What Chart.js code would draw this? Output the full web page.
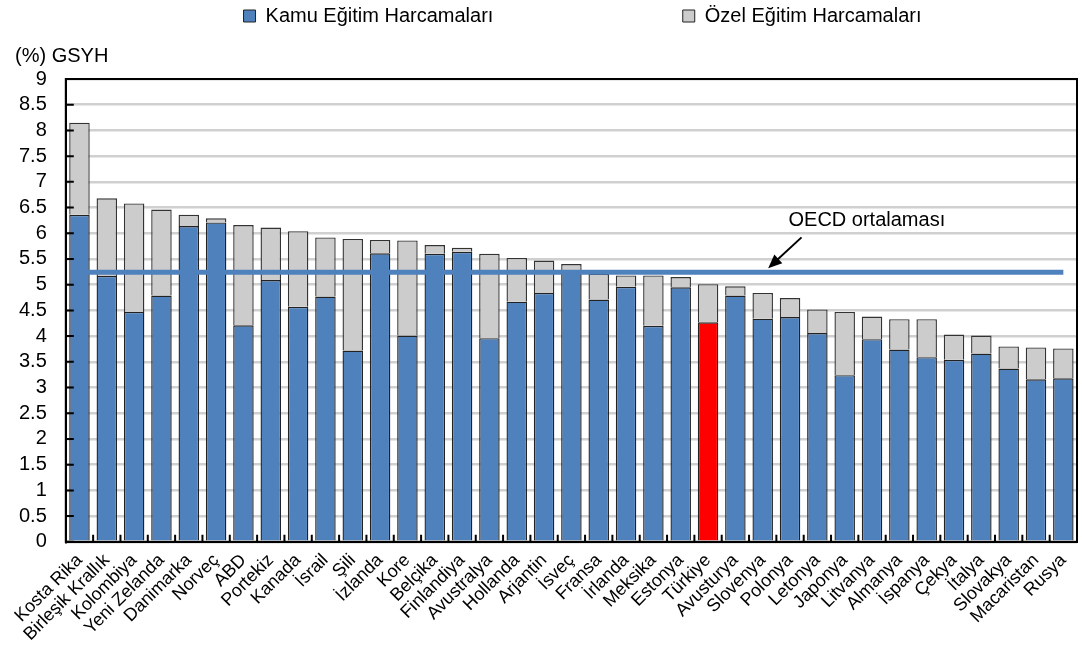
<!DOCTYPE html>
<html>
<head>
<meta charset="utf-8">
<script src="https://cdn.jsdelivr.net/npm/chart.js@4.4.1/dist/chart.umd.min.js"></script>
<style>
  html, body { margin: 0; padding: 0; background: #fff; }
  #wrap { width: 1082px; height: 645px; }
</style>
</head>
<body>
<div id="wrap"><canvas id="plot"></canvas></div>
<script>
  // ülkeler (toplam harcamaya göre sıralı)
  var ulkeler = ["Kosta Rika", "Birleşik Krallık", "Kolombiya", "Yeni Zelanda", "Danimarka", "Norveç",
    "ABD", "Portekiz", "Kanada", "İsrail", "Şili", "İzlanda", "Kore", "Belçika", "Finlandiya",
    "Avustralya", "Hollanda", "Arjantin", "İsveç", "Fransa", "İrlanda", "Meksika", "Estonya",
    "Türkiye", "Avusturya", "Slovenya", "Polonya", "Letonya", "Japonya", "Litvanya", "Almanya",
    "İspanya", "Çekya", "İtalya", "Slovakya", "Macaristan", "Rusya"];

  var kamu = [6.36, 5.17, 4.47, 4.79, 6.14, 6.21, 4.21, 5.09, 4.57, 4.77, 3.72, 5.61, 4.01, 5.60,
    5.64, 3.96, 4.67, 4.84, 5.27, 4.71, 4.96, 4.20, 4.95, 4.27, 4.79, 4.34, 4.37, 4.06, 3.24,
    3.94, 3.74, 3.59, 3.54, 3.66, 3.37, 3.16, 3.18];

  var ozel = [1.79, 1.51, 2.11, 1.67, 0.22, 0.08, 1.95, 1.02, 1.47, 1.15, 2.17, 0.26, 1.85, 0.17,
    0.08, 1.64, 0.85, 0.63, 0.13, 0.50, 0.22, 0.98, 0.20, 0.74, 0.18, 0.50, 0.37, 0.46, 1.23,
    0.44, 0.59, 0.74, 0.49, 0.35, 0.43, 0.62, 0.58];

  var oecdOrt = 5.24;
  var yTicks = [0, 0.5, 1, 1.5, 2, 2.5, 3, 3.5, 4, 4.5, 5, 5.5, 6, 6.5, 7, 7.5, 8, 8.5, 9];

  var MAVI = "#4f81bd";
  var GRI = "#cccccc";
  var KIRMIZI = "#ff0000";
  var FONT = "'Liberation Sans', Arial, sans-serif";
  var turkIdx = ulkeler.indexOf("Türkiye");

  // çerçeve, içe dönük tik çizgileri ve OECD notu
  var ekler = {
    id: "ekler",
    afterLayout: function(chart) {
      chart.legend.left += 44;
      chart.legend.right += 44;
      chart.titleBlock.left += 15;
      chart.titleBlock.right += 15;
    },
    afterDatasetsDraw: function(chart) {
      var ctx = chart.ctx, a = chart.chartArea;
      var x = chart.scales.x, y = chart.scales.y;
      ctx.save();
      ctx.strokeStyle = "#000";
      ctx.lineWidth = 2;
      ctx.strokeRect(a.left, a.top, a.right - a.left, a.bottom - a.top);

      ctx.beginPath();
      yTicks.forEach(function(v) {
        var py = y.getPixelForValue(v);
        ctx.moveTo(a.left, py);
        ctx.lineTo(a.left + 8, py);
      });
      for (var i = 1; i < ulkeler.length; i++) {
        var px = x.getPixelForValue(i - 0.5);
        ctx.moveTo(px, a.bottom);
        ctx.lineTo(px, a.bottom - 7);
      }
      ctx.stroke();

      // ok
      var x1 = x.getPixelForValue(26.42), y1 = y.getPixelForValue(5.92);
      var x2 = x.getPixelForValue(25.2), y2 = y.getPixelForValue(5.32);
      var ang = Math.atan2(y2 - y1, x2 - x1);
      ctx.lineWidth = 2;
      ctx.beginPath();
      ctx.moveTo(x1, y1);
      ctx.lineTo(x2 - 8 * Math.cos(ang), y2 - 8 * Math.sin(ang));
      ctx.stroke();
      ctx.fillStyle = "#000";
      ctx.beginPath();
      ctx.moveTo(x2, y2);
      ctx.lineTo(x2 - 15 * Math.cos(ang - 0.4), y2 - 15 * Math.sin(ang - 0.4));
      ctx.lineTo(x2 - 15 * Math.cos(ang + 0.4), y2 - 15 * Math.sin(ang + 0.4));
      ctx.closePath();
      ctx.fill();

      ctx.font = "20px " + FONT;
      ctx.textAlign = "center";
      ctx.textBaseline = "middle";
      ctx.fillText("OECD ortalaması", x.getPixelForValue(28.81), y.getPixelForValue(6.24));
      ctx.restore();
    }
  };

  var data = {
    labels: ulkeler,
    datasets: [
      {
        type: "line",
        label: "OECD ortalaması",
        data: ulkeler.map(function() { return oecdOrt; }),
        borderColor: MAVI,
        borderWidth: 5,
        pointRadius: 0,
        fill: false,
        stack: "oecd",
        order: 0
      },
      {
        label: "Kamu Eğitim Harcamaları",
        data: kamu,
        backgroundColor: function(c) { return c.dataIndex === turkIdx ? KIRMIZI : MAVI; },
        borderColor: "#222",
        borderWidth: 1.4,
        stack: "s",
        order: 1
      },
      {
        label: "Özel Eğitim Harcamaları",
        data: ozel,
        backgroundColor: GRI,
        borderColor: "#333",
        borderWidth: 1.4,
        stack: "s",
        order: 1
      }
    ]
  };

  var config = {
    type: "bar",
    data: data,
    plugins: [ekler],
    options: {
      responsive: true,
      maintainAspectRatio: false,
      animation: false,
      layout: { padding: { left: 0, right: 5, top: 0, bottom: 0 } },
      datasets: { bar: { barPercentage: 0.75, categoryPercentage: 1.0 } },
      plugins: {
        legend: {
          position: "top",
          weight: 2000,
          labels: {
            filter: function(item) { return item.datasetIndex > 0; },
            boxWidth: 12,
            boxHeight: 12,
            padding: 6,
            color: "#000",
            font: { family: FONT, size: 20 },
            generateLabels: function(chart) {
              var items = Chart.defaults.plugins.legend.labels.generateLabels(chart);
              items.forEach(function(it) {
                it.strokeStyle = "#222";
                it.lineWidth = 1;
                if (it.datasetIndex === 1) {
                  it.fillStyle = MAVI;
                  it.text = it.text + "\u00a0".repeat(33);
                }
              });
              return items;
            }
          }
        },
        title: {
          display: true,
          text: "(%) GSYH",
          align: "start",
          weight: 1000,
          color: "#000",
          font: { family: FONT, size: 20, weight: "normal" },
          padding: { top: 8, bottom: 11 }
        },
        tooltip: { enabled: false }
      },
      scales: {
        x: {
          stacked: true,
          grid: { display: false },
          border: { display: true, color: "#000", width: 2 },
          ticks: {
            color: "#000",
            maxRotation: 45,
            minRotation: 45,
            autoSkip: false,
            padding: 0,
            font: { family: FONT, size: 18 }
          }
        },
        y: {
          stacked: true,
          min: 0,
          max: 9,
          afterBuildTicks: function(ax) {
            ax.ticks = yTicks.map(function(v) { return { value: v }; });
          },
          grid: { color: "#d0d0d0", lineWidth: 2.5, drawTicks: false },
          border: { display: true, color: "#000", width: 2 },
          ticks: {
            color: "#000",
            padding: 19,
            autoSkip: false,
            font: { family: FONT, size: 20 },
            callback: function(v) { return String(v); }
          }
        }
      }
    }
  };

  var plotCtx = document.getElementById("plot").getContext("2d");
  var chart = new Chart(plotCtx, config);
</script>
</body>
</html>
